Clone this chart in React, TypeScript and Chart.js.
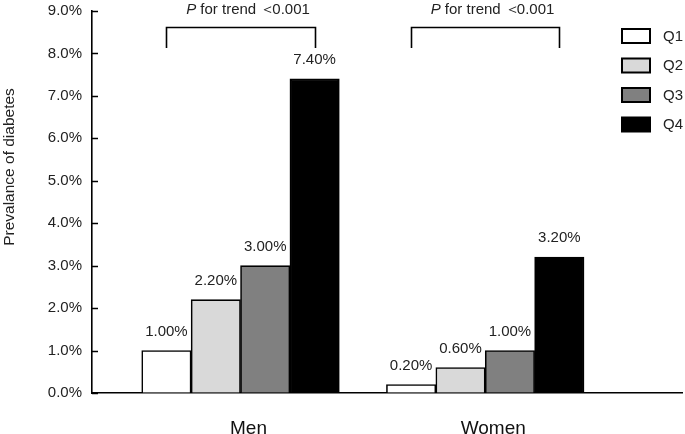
import React, { useEffect, useRef } from "react";
import { Chart, registerables } from "chart.js";

Chart.register(...registerables);

const groups = ["Men", "Women"];
const quartiles = ["Q1", "Q2", "Q3", "Q4"];
const q1Values = [1.0, 0.2];
const q2Values = [2.2, 0.6];
const q3Values = [3.0, 1.0];
const q4Values = [7.4, 3.2];
const seriesValues = [q1Values, q2Values, q3Values, q4Values];
const barColors = ["#ffffff", "#d9d9d9", "#808080", "#000000"];
const yMin = 0;
const yMax = 9;
const yStep = 1;
const yTitle = "Prevalance of diabetes";
const trendParts = ["P", " for trend ", "\uFF1C", "0.001"];

const FONT = "'Liberation Sans', Arial, sans-serif";

const overlayPlugin = {
  id: "overlay",
  afterDatasetsDraw(chart: any) {
    const ctx = chart.ctx;
    const area = chart.chartArea;
    const yScale = chart.scales.y;
    ctx.save();

    // inward y ticks
    ctx.strokeStyle = "#000";
    ctx.lineWidth = 1.5;
    yScale.ticks.forEach((t: any) => {
      const py = Math.round(yScale.getPixelForValue(t.value)) + 0.5;
      ctx.beginPath();
      ctx.moveTo(area.left, py);
      ctx.lineTo(area.left + 6, py);
      ctx.stroke();
    });

    // data labels
    ctx.fillStyle = "#222";
    ctx.font = `15px ${FONT}`;
    ctx.textAlign = "center";
    ctx.textBaseline = "middle";
    chart.data.datasets.forEach((ds: any, i: number) => {
      const meta = chart.getDatasetMeta(i);
      meta.data.forEach((bar: any, j: number) => {
        const v = ds.data[j].y;
        ctx.fillText(v.toFixed(2) + "%", bar.x, bar.y - 19);
      });
    });

    // brackets + trend text
    const m0 = chart.getDatasetMeta(0);
    const m3 = chart.getDatasetMeta(seriesValues.length - 1);
    const fonts = [`italic 15px ${FONT}`, `15px ${FONT}`, `15px ${FONT}`, `15px ${FONT}`];
    const kern = [0, 0, -3, 0];
    groups.forEach((_g, j) => {
      const x1 = Math.round(m0.data[j].x) + 0.5;
      const x2 = Math.round(m3.data[j].x) + 0.5;
      const yTop = area.top + 16.5;
      const yBot = area.top + 37;
      ctx.strokeStyle = "#000";
      ctx.lineWidth = 1.6;
      ctx.beginPath();
      ctx.moveTo(x1, yBot);
      ctx.lineTo(x1, yTop);
      ctx.lineTo(x2, yTop);
      ctx.lineTo(x2, yBot);
      ctx.stroke();

      const widths = trendParts.map((p, k) => {
        ctx.font = fonts[k];
        return ctx.measureText(p).width + kern[k];
      });
      const total = widths.reduce((a, b) => a + b, 0);
      const cx = (x1 + x2) / 2 + 7;
      let sx = cx - total / 2;
      const ty = area.top - 1.5;
      ctx.textAlign = "left";
      ctx.textBaseline = "middle";
      ctx.fillStyle = "#222";
      trendParts.forEach((p, k) => {
        ctx.font = fonts[k];
        ctx.fillText(p, sx, ty);
        sx += widths[k];
      });
    });

    // legend
    chart.data.datasets.forEach((ds: any, i: number) => {
      const bx = 622;
      const by = 29 + i * 29.5;
      ctx.fillStyle = ds.backgroundColor;
      ctx.fillRect(bx, by, 28, 14);
      ctx.strokeStyle = "#000";
      ctx.lineWidth = 2;
      ctx.strokeRect(bx, by, 28, 14);
      ctx.fillStyle = "#222";
      ctx.font = `15px ${FONT}`;
      ctx.textAlign = "left";
      ctx.textBaseline = "middle";
      ctx.fillText(ds.label, 663, by + 7.5);
    });

    // y title
    ctx.save();
    ctx.translate(10, 167);
    ctx.rotate(-Math.PI / 2);
    ctx.font = `15.5px ${FONT}`;
    ctx.fillStyle = "#222";
    ctx.textAlign = "center";
    ctx.textBaseline = "middle";
    ctx.fillText(yTitle, 0, 0);
    ctx.restore();

    ctx.restore();
  },
};

export default function App() {
  const ref = useRef<HTMLCanvasElement | null>(null);

  useEffect(() => {
    document.body.style.margin = "0";
    const canvas = ref.current;
    if (!canvas) return;
    const datasets = quartiles.map((q, i) => ({
      label: q,
      data: groups.map((_g, j) => ({ x: j + 1, y: seriesValues[i][j] })),
      backgroundColor: barColors[i],
      borderColor: "#000",
      borderWidth: 1.6,
      barThickness: 49.4,
    }));
    const chart = new Chart(canvas, {
      type: "bar",
      data: { datasets },
      plugins: [overlayPlugin],
      options: {
        responsive: false,
        animation: false,
        devicePixelRatio: 1,
        layout: { padding: { top: 11, right: 3, left: 0, bottom: 0 } },
        plugins: {
          legend: { display: false },
          tooltip: { enabled: false },
        },
        scales: {
          x: {
            type: "linear",
            offset: false,
            min: 0.3931,
            max: 2.8041,
            afterBuildTicks: (scale: any) => {
              scale.ticks = groups.map((_g, j) => ({ value: j + 1 }));
            },
            afterFit: (scale: any) => {
              scale.height = 41;
              scale.paddingLeft = 0;
              scale.paddingRight = 0;
            },
            ticks: {
              autoSkip: false,
              callback: (v: any) => groups[Math.round(Number(v)) - 1] ?? "",
              font: { family: FONT, size: 19 },
              color: "#111",
              padding: 24,
              labelOffset: 8,
              maxRotation: 0,
            },
            grid: { display: true, offset: false, drawOnChartArea: false, drawTicks: false },
            border: { display: true, color: "#000", width: 1.6 },
          },
          y: {
            min: yMin,
            max: yMax,
            afterFit: (scale: any) => {
              scale.width = 92;
              scale.paddingTop = 0;
              scale.paddingBottom = 0;
            },
            ticks: {
              stepSize: yStep,
              callback: (v: any) => Number(v).toFixed(1) + "%",
              font: { family: FONT, size: 15 },
              color: "#222",
              padding: 10,
            },
            grid: { display: true, drawOnChartArea: false, drawTicks: false },
            border: { display: true, color: "#000", width: 1.6 },
          },
        },
      },
    } as any);
    return () => chart.destroy();
  }, []);

  return (
    <div style={{ width: 685, height: 434 }}>
      <canvas ref={ref} width={685} height={434} style={{ display: "block" }} />
    </div>
  );
}
